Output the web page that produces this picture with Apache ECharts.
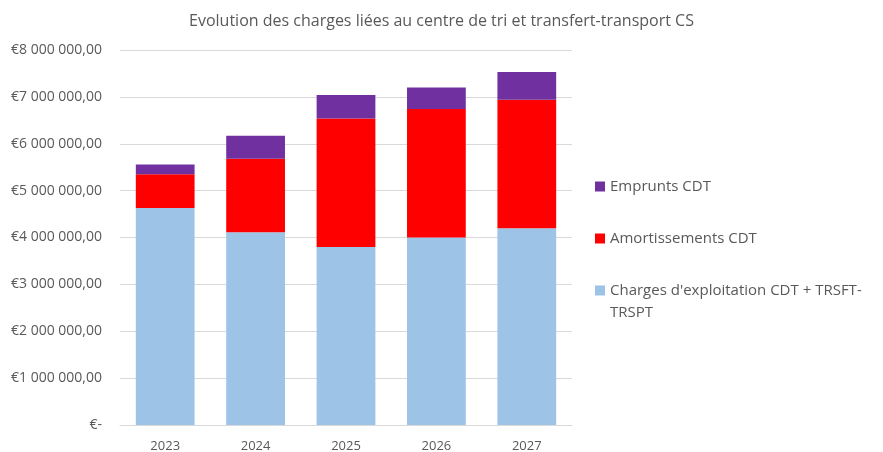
<!DOCTYPE html>
<html>
<head>
<meta charset="utf-8">
<script src="https://cdn.jsdelivr.net/npm/echarts@6/dist/echarts.min.js"></script>
<style>
  html, body { margin: 0; padding: 0; background: #fff; }
  #chart { width: 883px; height: 452px; }
</style>
</head>
<body>
<div id="chart"></div>
<script>
// Values
const years = ['2023', '2024', '2025', '2026', '2027'];
const chargesExploitation = [4630000, 4110000, 3800000, 4000000, 4200000];
const amortissements = [720000, 1570000, 2740000, 2740000, 2740000];
const emprunts = [210000, 490000, 500000, 460000, 590000];

const FONT = '"Open Sans", "Noto Sans", sans-serif';
const GREY = '#595959';

function euro(v) {
    if (v === 0) return '€-';
    return '€' + String(v).replace(/\B(?=(\d{3})+(?!\d))/g, ' ') + ',00';
}

const chart = echarts.init(document.getElementById('chart'));

chart.setOption({
    animation: false,
    title: {
        text: 'Evolution des charges liées au centre de tri et transfert-transport CS',
        left: 'center',
        top: 8,
        textStyle: { fontFamily: FONT, fontSize: 16, fontWeight: 'normal', color: GREY }
    },
    grid: { left: 120, right: 311, top: 50, bottom: 27, outerBoundsMode: 'none' },
    legend: {
        orient: 'vertical',
        left: 590,
        top: 174,
        itemWidth: 10,
        itemHeight: 10,
        itemGap: 37,
        icon: 'rect',
        data: ['Emprunts CDT', 'Amortissements CDT', "Charges d'exploitation CDT + TRSFT-"],
        textStyle: { fontFamily: FONT, fontSize: 15, color: GREY }
    },
    graphic: [{
        type: 'text',
        left: 610,
        top: 305,
        style: { text: 'TRSPT', font: '15px ' + FONT, fill: GREY }
    }],
    xAxis: {
        type: 'category',
        data: years,
        axisLine: { lineStyle: { color: '#d9d9d9' } },
        axisTick: { show: false },
        axisLabel: { fontFamily: FONT, fontSize: 13, color: GREY, margin: 15 }
    },
    yAxis: {
        type: 'value',
        min: 0,
        max: 8000000,
        interval: 1000000,
        axisLine: { show: false },
        axisTick: { show: false },
        splitLine: { lineStyle: { color: '#d9d9d9' } },
        axisLabel: { fontFamily: FONT, fontSize: 14, color: GREY, margin: 18, formatter: euro }
    },
    series: [
        {
            name: "Charges d'exploitation CDT + TRSFT-",
            type: 'bar',
            stack: 'total',
            barCategoryGap: '35%',
            data: chargesExploitation,
            itemStyle: { color: '#9dc3e6' }
        },
        {
            name: 'Amortissements CDT',
            type: 'bar',
            stack: 'total',
            data: amortissements,
            itemStyle: { color: '#ff0000' }
        },
        {
            name: 'Emprunts CDT',
            type: 'bar',
            stack: 'total',
            data: emprunts,
            itemStyle: { color: '#7030a0' }
        }
    ]
});
</script>
</body>
</html>
